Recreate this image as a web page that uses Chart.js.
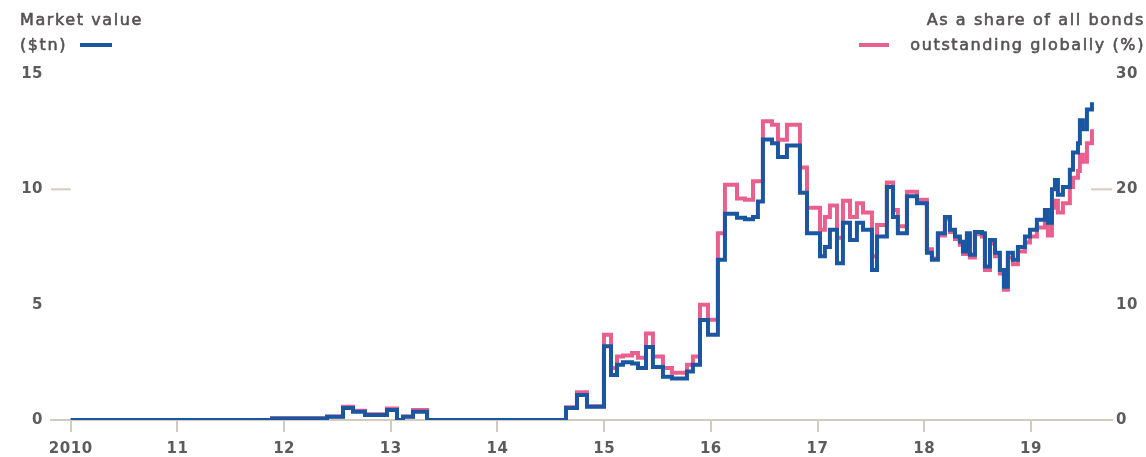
<!DOCTYPE html>
<html>
<head>
<meta charset="utf-8">
<script src="https://cdn.jsdelivr.net/npm/chart.js@4/dist/chart.umd.min.js"></script>
<style>
  html, body { margin: 0; padding: 0; background: #ffffff; }
  #wrap { width: 1146px; height: 457px; }
</style>
</head>
<body>
<div id="wrap"><canvas id="chart" width="1146" height="457"></canvas></div>
<script>
// Observation dates as decimal years; each value holds until the next date (stepped series)
const years = [
  2010.000, 2011.887, 2012.402, 2012.552, 2012.646, 2012.758, 2012.964, 2013.058, 2013.114, 2013.208,
  2013.340, 2014.642, 2014.745, 2014.839, 2014.998, 2015.064, 2015.120, 2015.176, 2015.261, 2015.317,
  2015.392, 2015.457, 2015.551, 2015.635, 2015.776, 2015.832, 2015.898, 2015.973, 2016.066, 2016.132,
  2016.245, 2016.320, 2016.395, 2016.441, 2016.488, 2016.573, 2016.629, 2016.713, 2016.835, 2016.901,
  2017.023, 2017.069, 2017.116, 2017.182, 2017.238, 2017.304, 2017.369, 2017.426, 2017.510, 2017.557,
  2017.650, 2017.707, 2017.753, 2017.838, 2017.932, 2018.025, 2018.072, 2018.128, 2018.194, 2018.241,
  2018.288, 2018.334, 2018.363, 2018.400, 2018.428, 2018.475, 2018.541, 2018.569, 2018.616, 2018.663,
  2018.709, 2018.747, 2018.784, 2018.831, 2018.878, 2018.944, 2018.991, 2019.056, 2019.131, 2019.159,
  2019.197, 2019.225, 2019.253, 2019.300, 2019.365, 2019.394, 2019.441, 2019.459, 2019.487, 2019.525,
  2019.572
];

// Market value of negative-yielding bonds, $tn (left axis)
const marketValue = [
  0.00, 0.07, 0.14, 0.52, 0.36, 0.22, 0.43, 0.00, 0.14, 0.36,
  0.00, 0.52, 1.08, 0.57, 3.20, 1.95, 2.40, 2.50, 2.45, 2.25,
  3.17, 2.30, 1.87, 1.80, 2.10, 2.40, 4.34, 3.70, 6.95, 8.94,
  8.77, 8.70, 8.80, 9.47, 12.16, 12.00, 11.40, 11.90, 9.85, 8.10,
  7.10, 7.50, 8.25, 6.80, 8.55, 7.80, 8.55, 8.25, 6.50, 7.95,
  10.10, 8.80, 8.10, 9.70, 9.40, 7.25, 6.95, 8.10, 8.80, 8.25,
  7.95, 7.73, 7.30, 8.10, 7.16, 8.15, 8.10, 6.65, 7.80, 7.25,
  6.50, 5.78, 7.25, 6.95, 7.50, 7.95, 8.25, 8.68, 9.10, 8.55,
  10.00, 10.40, 9.77, 10.10, 10.85, 11.60, 12.00, 13.00, 12.60, 13.46,
  13.77
];

// Share of all bonds outstanding globally, % (right axis)
const bondShare = [
  0.0, 0.15, 0.3, 1.15, 0.8, 0.5, 1.0, 0.0, 0.3, 0.87,
  0.0, 1.1, 2.4, 1.2, 7.4, 4.5, 5.5, 5.6, 5.8, 5.4,
  7.5, 5.5, 4.5, 4.1, 4.8, 5.5, 10.0, 8.7, 16.2, 20.4,
  19.2, 19.1, 20.7, 20.7, 25.9, 25.6, 24.3, 25.6, 21.9, 18.4,
  16.5, 17.6, 18.6, 15.8, 19.0, 17.6, 18.8, 18.0, 14.2, 16.9,
  20.6, 18.2, 16.8, 19.8, 19.1, 14.8, 14.0, 16.0, 17.4, 16.3,
  15.7, 15.2, 14.4, 16.0, 14.1, 16.1, 15.9, 13.0, 15.3, 14.2,
  12.7, 11.3, 14.1, 13.5, 14.6, 15.4, 15.9, 16.7, 17.4, 16.0,
  18.4, 19.0, 18.0, 18.8, 20.2, 21.0, 21.6, 23.0, 22.4, 24.0,
  25.2
];

// Axis tick values
const yearTicks = [2010, 2011, 2012, 2013, 2014, 2015, 2016, 2017, 2018, 2019];
const valueTicks = [0, 5, 10, 15];
const shareTicks = [0, 10, 20, 30];

const BLUE = '#1b56a0';
const PINK = '#e9608e';
const RULE = '#d3cbbf';
const TEXT = '#5e5b5c';
const FONT = '"DejaVu Sans", sans-serif';

const toPoints = (vals) => vals.map((v, i) => ({ x: years[i], y: v }));

// Header labels with their line keys, plus the short guide marks beside the axes
const annotations = {
  id: 'annotations',
  beforeInit(chart) { chart.ctx.letterSpacing = '0.5px'; },
  beforeDraw(chart) { chart.ctx.letterSpacing = '0.5px'; },
  afterDraw(chart) {
    const { ctx, chartArea, scales } = chart;
    ctx.save();
    ctx.letterSpacing = '1.6px';
    ctx.font = '16px ' + FONT;
    ctx.fillStyle = '#565354';
    ctx.strokeStyle = '#565354';
    ctx.lineWidth = 0.6;
    ctx.lineJoin = 'round';
    ctx.textBaseline = 'middle';
    const label = (text, x, y, align) => {
      ctx.textAlign = align;
      ctx.fillText(text, x, y);
      ctx.strokeText(text, x, y);
    };
    label('Market value', 20, 21, 'left');
    label('($tn)', 20, 46, 'left');
    label('As a share of all bonds', 1145, 21, 'right');
    label('outstanding globally (%)', 1145, 46, 'right');

    ctx.lineWidth = 4;
    ctx.strokeStyle = BLUE;
    ctx.beginPath(); ctx.moveTo(80, 45); ctx.lineTo(112, 45); ctx.stroke();
    ctx.strokeStyle = PINK;
    ctx.beginPath(); ctx.moveTo(859, 45); ctx.lineTo(889, 45); ctx.stroke();

    ctx.lineWidth = 2;
    ctx.strokeStyle = RULE;
    const yL = scales.y.getPixelForValue(10);
    ctx.beginPath(); ctx.moveTo(chartArea.left, yL); ctx.lineTo(scales.x.getPixelForValue(2010), yL); ctx.stroke();
    const yR = scales.y1.getPixelForValue(20);
    ctx.beginPath(); ctx.moveTo(chartArea.right - 21, yR); ctx.lineTo(chartArea.right, yR); ctx.stroke();
    ctx.restore();
  }
};

const tickFont = { family: FONT, size: 15, weight: 'bold' };

new Chart(document.getElementById('chart'), {
  type: 'line',
  data: {
    datasets: [
      {
        label: 'Market value ($tn)',
        data: toPoints(marketValue),
        yAxisID: 'y',
        borderColor: BLUE,
        borderWidth: 4,
        stepped: true,
        pointRadius: 0,
        order: 1
      },
      {
        label: 'As a share of all bonds outstanding globally (%)',
        data: toPoints(bondShare),
        yAxisID: 'y1',
        borderColor: PINK,
        borderWidth: 4,
        stepped: true,
        pointRadius: 0,
        order: 2
      }
    ]
  },
  options: {
    responsive: false,
    animation: false,
    events: [],
    layout: { padding: { top: 74, left: 0, right: 0, bottom: 0 } },
    plugins: { legend: { display: false }, tooltip: { enabled: false } },
    scales: {
      x: {
        type: 'linear',
        min: 2009.815,
        max: 2019.76,
        afterBuildTicks(scale) { scale.ticks = yearTicks.map(v => ({ value: v })); },
        afterFit(scale) { scale.height = 37; },
        ticks: {
          font: tickFont,
          color: TEXT,
          padding: 8,
          maxRotation: 0,
          autoSkip: false,
          callback: (v) => (v === 2010 ? '2010' : String(v).slice(2))
        },
        grid: { drawOnChartArea: false, drawTicks: true, tickLength: 12, color: RULE, lineWidth: 2 },
        border: { display: true, color: RULE, width: 2 }
      },
      y: {
        position: 'left',
        min: 0,
        max: 15,
        afterBuildTicks(scale) { scale.ticks = valueTicks.map(v => ({ value: v })); },
        afterFit(scale) { scale.width = 51; },
        ticks: { font: tickFont, color: TEXT, padding: 8 },
        grid: { display: false, drawTicks: false },
        border: { display: false }
      },
      y1: {
        position: 'right',
        min: 0,
        max: 30,
        afterBuildTicks(scale) { scale.ticks = shareTicks.map(v => ({ value: v })); },
        afterFit(scale) { scale.width = 34; },
        ticks: { font: tickFont, color: TEXT, padding: 4 },
        grid: { display: false, drawTicks: false },
        border: { display: false }
      }
    }
  },
  plugins: [annotations]
});
</script>
</body>
</html>
